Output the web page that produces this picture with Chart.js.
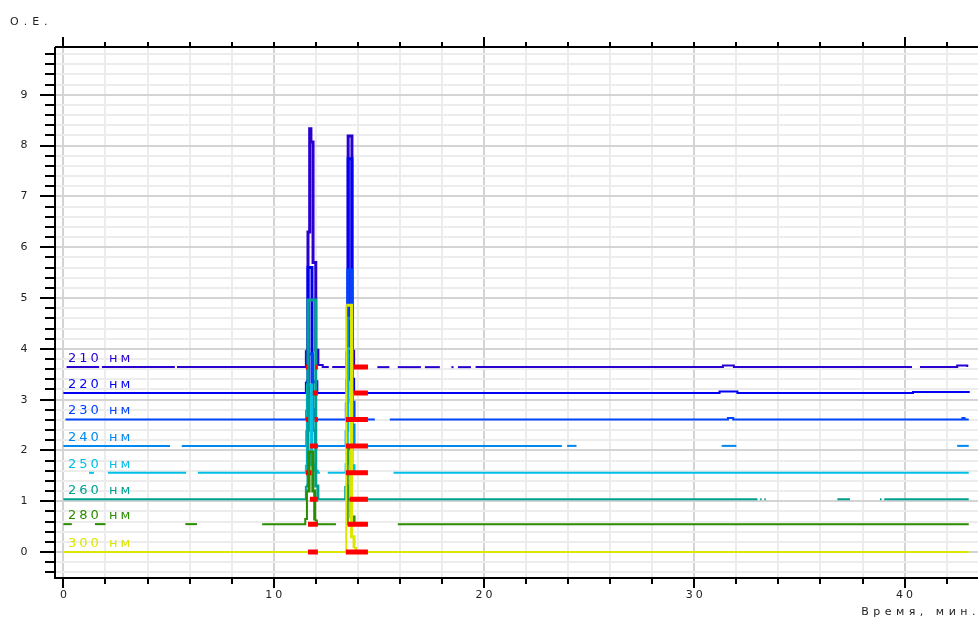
<!doctype html>
<html>
<head>
<meta charset="utf-8">
<title>chromatogram</title>
<style>
body {margin: 0; background: #fff}
#wrap {width: 978px; height: 619px; position: relative}
</style>
</head>
<body>
<div id="wrap"><canvas></canvas></div>
<script src="https://cdn.jsdelivr.net/npm/chart.js"></script>
<script>
// detector channels, top to bottom
let wavelengths = ['210 нм', '220 нм', '230 нм', '240 нм', '250 нм', '260 нм', '280 нм', '300 нм']
let colors = ['#2a00d0', '#0000f4', '#0044ff', '#0088f0', '#00c0e8', '#00a090', '#2a8c00', '#dce600']

// baseline offset of each channel, О.Е.
let baselines = [3.64, 3.13, 2.61, 2.09, 1.56, 1.04, 0.55, 0]

// where each baseline is actually drawn (минуты, from - to)
let spans = [
    [[0.15, 1.7], [1.83, 5.3], [5.4, 12.62], [12.78, 14.48], [14.93, 15.5], [15.9, 17.0], [17.19, 17.9], [18.45, 18.55], [18.76, 19.38], [19.6, 40.35], [40.73, 42.98]],
    [[0, 43.05]],
    [[0.1, 14.81], [15.52, 43.05]],
    [[0, 5.07], [5.63, 23.7], [23.95, 24.4], [31.3, 32.0], [42.5, 43.05]],
    [[1.22, 1.45], [2.12, 5.83], [6.4, 12.2], [12.57, 13.9], [15.7, 43.05]],
    [[0, 33.0], [33.13, 33.2], [33.33, 33.4], [36.8, 37.4], [38.83, 38.9], [39.03, 43.05]],
    [[0, 0.4], [1.5, 2.0], [5.8, 6.35], [9.45, 12.96], [13.45, 14.48], [15.9, 43.05]],
    [[0, 43.05]]
]

// peak points (минуты, О.Е.), each level holds until the next point
let peaks = [
    [[11.53, 3.97], [11.63, 6.3], [11.71, 8.33], [11.77, 8.07], [11.87, 5.7], [12.0, 3.97], [12.1, 3.68], [12.33, 3.64], [13.45, 3.95], [13.54, 8.19], [13.72, 3.95], [13.8, 3.64], [31.36, 3.67], [31.88, 3.64], [42.5, 3.67]],
    [[11.53, 3.35], [11.63, 5.6], [11.82, 3.35], [12.05, 3.13], [13.45, 3.4], [13.54, 7.74], [13.72, 3.4], [13.8, 3.13], [31.2, 3.16], [32.05, 3.13], [40.4, 3.15]],
    [[11.55, 2.8], [11.65, 3.9], [11.85, 2.8], [11.97, 2.61], [13.43, 2.95], [13.52, 5.55], [13.72, 2.95], [13.82, 2.61], [31.6, 2.64], [31.85, 2.61], [42.75, 2.64], [42.85, 2.61]],
    [[11.55, 2.4], [11.65, 3.1], [11.85, 2.4], [11.97, 2.09], [13.42, 2.4], [13.52, 4.6], [13.72, 2.5], [13.82, 2.09]],
    [[11.53, 1.72], [11.6, 3.29], [11.8, 1.72], [11.95, 1.6], [12.1, 1.56], [13.42, 1.75], [13.5, 4.0], [13.72, 1.7], [13.82, 1.56]],
    [[11.53, 1.3], [11.63, 4.96], [12.0, 1.3], [12.1, 1.04], [13.4, 1.3], [13.5, 1.04]],
    [[11.5, 0.65], [11.58, 1.2], [11.68, 1.97], [11.86, 1.2], [11.95, 0.62], [12.05, 0.55], [13.52, 2.05], [13.68, 0.69], [13.82, 0.55]],
    [[13.45, 4.86], [13.7, 0.3], [13.82, 0.08], [13.92, 0]]
]

// red integration marks on each baseline (минуты, from - to)
let marks = [
    [[11.53, 11.6], [11.98, 12.1], [13.81, 14.48]],
    [[11.86, 12.1], [13.81, 14.48]],
    [[11.53, 11.63], [11.95, 12.1], [13.43, 14.48]],
    [[11.72, 12.1], [13.43, 14.48]],
    [[11.53, 11.63], [11.72, 11.8], [13.43, 14.48]],
    [[11.72, 12.1], [13.62, 14.48]],
    [[11.63, 12.1], [13.52, 14.48]],
    [[11.63, 12.1], [13.43, 14.48]]
]

let xTickLabels = [0, 10, 20, 30, 40]
let yTickLabels = [0, 1, 2, 3, 4, 5, 6, 7, 8, 9]
let yTitle = 'О.Е.'
let xTitle = 'Время, мин.'

function trace(i) {
    let points = []
    for (let [t0, t1] of spans[i]) {
        points.push({x: t0, y: baselines[i]})
        for (let [t, v] of peaks[i]) {
            if (t > t0 && t < t1) points.push({x: t, y: v})
        }
        points.push({x: t1, y: baselines[i]})
        points.push({x: t1, y: null})
    }
    return points
}

let datasets = wavelengths.map(function (label, i) {
    return {
        label, data: trace(i), borderColor: colors[i], borderWidth: 2,
        // peak columns are drawn a little heavier than the baseline
        segment: {borderWidth: c => c.p0.parsed.y > baselines[i] + 0.1 ? 3 : 2},
        stepped: true, pointRadius: 0, fill: false, order: wavelengths.length - i
    }
})
// integration marks go on top, one dataset per channel
marks.forEach(function (list, i) {
    let data = []
    for (let [t0, t1] of list) data.push({x: t0, y: baselines[i]}, {x: t1, y: baselines[i]}, {x: t1, y: null})
    datasets.push({label: 'mark ' + wavelengths[i], data, borderColor: '#ff0000', borderWidth: 5, borderCapStyle: 'butt', pointRadius: 0, order: 0})
})

function near(v, step) {
    return Math.abs(v / step - Math.round(v / step)) < 1e-6
}

function ticksEvery(from, to, step) {
    let out = []
    for (let v = from; v <= to + 1e-9; v += step) out.push({value: Math.round(v * 100) / 100})
    return out
}

let frame = {
    id: 'frame',
    afterDraw(chart) {
        let {ctx, chartArea: a, scales: {x, y}} = chart
        ctx.save()

        // channel labels
        ctx.font = '13px "DejaVu Sans"'
        ctx.letterSpacing = '3px'
        ctx.textAlign = 'left'
        ctx.textBaseline = 'alphabetic'
        wavelengths.forEach(function (label, i) {
            ctx.fillStyle = colors[i]
            ctx.fillText(label, Math.round(x.getPixelForValue(0)) + 5, Math.round(y.getPixelForValue(baselines[i])) - 5)
        })

        // axes
        ctx.strokeStyle = '#000'
        ctx.lineWidth = 2
        ctx.beginPath()
        ctx.moveTo(a.left, a.top)
        ctx.lineTo(a.left, a.bottom)
        ctx.lineTo(a.right, a.bottom)
        ctx.moveTo(a.left, a.top)
        ctx.lineTo(a.right, a.top)
        ctx.stroke()

        ctx.beginPath()
        for (let i = -2; i <= 49; i++) {
            let py = Math.round(y.getPixelForValue(i / 5))
            if (py < a.top + 2 || py > a.bottom - 2) continue
            ctx.moveTo(a.left - (i % 5 === 0 ? 15 : 10), py)
            ctx.lineTo(a.left, py)
        }
        for (let m = 0; m <= 43; m += 2) {
            let px = Math.round(x.getPixelForValue(m))
            ctx.moveTo(px, a.bottom)
            ctx.lineTo(px, a.bottom + (m % 10 === 0 ? 10 : 6))
            ctx.moveTo(px, a.top)
            ctx.lineTo(px, a.top - (m % 20 === 0 ? 10 : 5))
        }
        ctx.stroke()

        // tick labels and titles
        ctx.fillStyle = '#222'
        ctx.font = '11px "DejaVu Sans"'
        ctx.letterSpacing = '0px'
        ctx.textAlign = 'center'
        ctx.textBaseline = 'middle'
        for (let v of yTickLabels) ctx.fillText(String(v), 24, y.getPixelForValue(v))
        ctx.letterSpacing = '3px'
        for (let v of xTickLabels) ctx.fillText(String(v), x.getPixelForValue(v) + 1.5, 595)

        ctx.letterSpacing = '5px'
        ctx.textAlign = 'left'
        ctx.fillText(yTitle, 10, 22)
        ctx.letterSpacing = '4.5px'
        ctx.textAlign = 'right'
        ctx.fillText(xTitle, 980, 612)
        ctx.restore()
    }
}

new Chart(document.querySelector('canvas'), {
    type: 'line',
    data: {datasets},
    options: {
        responsive: true,
        maintainAspectRatio: false,
        animation: false,
        layout: {padding: {left: 55, top: 47, right: 0, bottom: 41}},
        scales: {
            x: {
                type: 'linear', min: -0.4, max: 43.49,
                afterBuildTicks: scale => { scale.ticks = ticksEvery(0, 42, 2) },
                ticks: {display: false},
                grid: {drawTicks: false, lineWidth: 2, color: c => near(c.tick.value, 10) ? '#d4d4d4' : '#ececec'},
                border: {display: false}
            },
            y: {
                type: 'linear', min: -0.51, max: 9.94,
                afterBuildTicks: scale => { scale.ticks = ticksEvery(-0.4, 9.8, 0.2) },
                ticks: {display: false},
                grid: {drawTicks: false, lineWidth: 2, color: c => near(c.tick.value, 1) ? '#d4d4d4' : '#ececec'},
                border: {display: false}
            }
        },
        plugins: {legend: {display: false}, tooltip: {enabled: false}}
    },
    plugins: [frame]
})
</script>
</body>
</html>
